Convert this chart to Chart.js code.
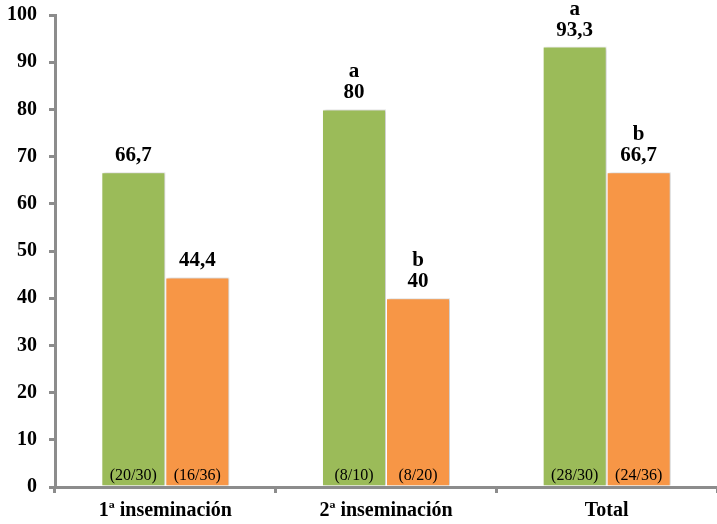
<!DOCTYPE html>
<html>
<head>
<meta charset="utf-8">
<script src="https://cdn.jsdelivr.net/npm/chart.js@4.4.1/dist/chart.umd.min.js"></script>
<style>
  html, body { margin: 0; padding: 0; background: #fff; }
  #wrap { width: 717px; height: 524px; }
</style>
</head>
<body>
<div id="wrap"><canvas id="chart"></canvas></div>
<script>
// pregnancy rates per insemination
const categories = ['1ª inseminación', '2ª inseminación', 'Total'];
const greenValues = [66.7, 80, 93.3];
const orangeValues = [44.4, 40, 66.7];
const greenLetters = ['', 'a', 'a'];
const orangeLetters = ['', 'b', 'b'];
const greenCounts = ['(20/30)', '(8/10)', '(28/30)'];
const orangeCounts = ['(16/36)', '(8/20)', '(24/36)'];

const serif = "'Liberation Serif', 'Times New Roman', serif";
const axisGray = '#8c8c8c';

function fmt(v) {
  return String(v).replace('.', ',');
}

// soft shadow on the right side of the bars
const barShadow = {
  id: 'barShadow',
  beforeDatasetsDraw(chart) {
    const ctx = chart.ctx;
    ctx.save();
    ctx.shadowColor = 'rgba(0, 0, 0, 0.22)';
    ctx.shadowOffsetX = 2;
    ctx.shadowOffsetY = 0;
    ctx.shadowBlur = 3;
  },
  afterDatasetsDraw(chart) {
    chart.ctx.restore();
  }
};

// value labels above bars, counts inside at the bottom
const barLabels = {
  id: 'barLabels',
  afterDatasetsDraw(chart) {
    const ctx = chart.ctx;
    const letters = [greenLetters, orangeLetters];
    const counts = [greenCounts, orangeCounts];
    const bottom = chart.scales.y.getPixelForValue(0);
    ctx.save();
    ctx.fillStyle = '#000';
    ctx.textAlign = 'center';
    chart.data.datasets.forEach((ds, di) => {
      chart.getDatasetMeta(di).data.forEach((bar, i) => {
        ctx.font = 'bold 21px ' + serif;
        ctx.textBaseline = 'alphabetic';
        ctx.fillText(fmt(ds.data[i]), bar.x, bar.y - 11);
        if (letters[di][i]) {
          ctx.fillText(letters[di][i], bar.x, bar.y - 32);
        }
        ctx.font = '16px ' + serif;
        ctx.fillText(counts[di][i], bar.x, bottom - 7);
      });
    });
    ctx.restore();
  }
};

new Chart(document.getElementById('chart'), {
  type: 'bar',
  data: {
    labels: categories,
    datasets: [
      {
        data: greenValues,
        backgroundColor: '#9bbb59',
        borderColor: '#ffffff',
        borderWidth: 1,
        categoryPercentage: 0.58,
        barPercentage: 1
      },
      {
        data: orangeValues,
        backgroundColor: '#f79646',
        borderColor: '#ffffff',
        borderWidth: 1,
        categoryPercentage: 0.58,
        barPercentage: 1
      }
    ]
  },
  options: {
    responsive: true,
    maintainAspectRatio: false,
    animation: false,
    layout: { padding: { top: 0, right: 0, left: 0, bottom: 0 } },
    plugins: {
      legend: { display: false },
      tooltip: { enabled: false }
    },
    scales: {
      x: {
        afterFit: (s) => { s.height = 37; },
        grid: {
          drawOnChartArea: false,
          drawTicks: true,
          tickLength: 6,
          color: axisGray,
          lineWidth: 3
        },
        border: { display: true, color: axisGray, width: 3 },
        ticks: {
          color: '#000',
          padding: 6,
          font: { family: serif, size: 20, weight: 'bold' }
        }
      },
      y: {
        min: 0,
        max: 100,
        afterFit: (s) => {
          s.width = 55;
          s.paddingTop = 15;
          s.paddingBottom = 0;
        },
        ticks: {
          stepSize: 10,
          color: '#000',
          padding: 12,
          font: { family: serif, size: 20, weight: 'bold' }
        },
        grid: {
          drawOnChartArea: false,
          drawTicks: true,
          tickLength: 6,
          color: axisGray,
          lineWidth: 3
        },
        border: { display: true, color: axisGray, width: 3 }
      }
    }
  },
  plugins: [barShadow, barLabels]
});
</script>
</body>
</html>
